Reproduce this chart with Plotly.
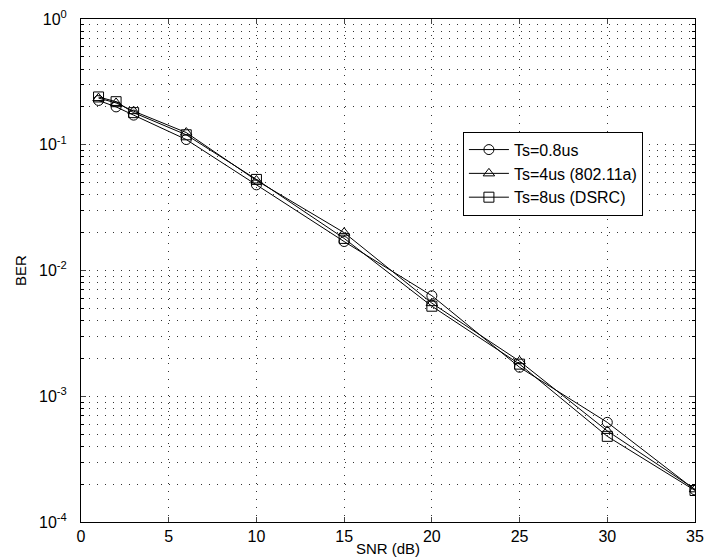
import plotly.graph_objects as go

# SNR sweep (dB) and measured bit error rates for three symbol durations
snr_db = [1, 2, 3, 6, 10, 15, 20, 25, 30, 35]
ber_ts_0_8us = [0.225, 0.200, 0.172, 0.110, 0.048, 0.0170, 0.0063, 0.00170, 0.00062, 0.000180]
ber_ts_4us = [0.235, 0.215, 0.185, 0.125, 0.052, 0.0200, 0.0055, 0.00190, 0.00053, 0.000182]
ber_ts_8us = [0.240, 0.220, 0.180, 0.120, 0.053, 0.0180, 0.0052, 0.00180, 0.00048, 0.000178]

series_names = ["Ts=0.8us", "Ts=4us (802.11a)", "Ts=8us (DSRC)"]
series_symbols = ["circle-open", "triangle-up-open", "square-open"]

y_tickvals = [1e-4, 1e-3, 1e-2, 1e-1, 1]
y_ticktext = ["10<sup>-4</sup>", "10<sup>-3</sup>", "10<sup>-2</sup>", "10<sup>-1</sup>", "10<sup>0</sup>"]
x_tickvals = [0, 5, 10, 15, 20, 25, 30, 35]

FONT = "Liberation Sans, Arial, sans-serif"
DOTS = "1px,7px"

fig = go.Figure()
for name, sym, ber in zip(series_names, series_symbols, [ber_ts_0_8us, ber_ts_4us, ber_ts_8us]):
    fig.add_trace(go.Scatter(
        x=snr_db, y=ber, name=name, mode="lines+markers",
        line=dict(color="black", width=1),
        marker=dict(symbol=sym, size=10, color="black", line=dict(width=1, color="black")),
    ))

grid = dict(showgrid=True, gridcolor="#333333", gridwidth=1, griddash=DOTS)

fig.update_layout(
    width=708, height=557,
    margin=dict(l=81, r=13, t=19, b=35),
    paper_bgcolor="white", plot_bgcolor="white",
    font=dict(family=FONT, size=15, color="black"),
    showlegend=True,
    legend=dict(
        x=0.622, y=0.776, xanchor="left", yanchor="top",
        bgcolor="white", bordercolor="black", borderwidth=1,
        font=dict(family=FONT, size=16, color="black"),
        tracegroupgap=0, itemwidth=40,
    ),
    xaxis=dict(
        range=[0, 35], tickvals=x_tickvals, ticks="inside", ticklen=5,
        tickfont=dict(size=16),
        showline=True, linecolor="black", linewidth=1, mirror="ticks",
        zeroline=False, automargin=False,
        title=dict(text="SNR (dB)", standoff=0, font=dict(size=15)),
        **grid,
    ),
    yaxis=dict(
        type="log", range=[-4, 0], tickvals=y_tickvals, ticktext=y_ticktext,
        ticks="inside", ticklen=5, automargin=False, ticklabelstandoff=10,
        tickfont=dict(size=16),
        showline=True, linecolor="black", linewidth=1, mirror="ticks",
        title=dict(text="BER", standoff=8, font=dict(size=15)),
        minor=dict(dtick="D1", showgrid=True, gridcolor="#333333", griddash=DOTS,
                   ticks="inside", ticklen=3, tickcolor="black"),
        **grid,
    ),
)

fig.write_html("out.html")
